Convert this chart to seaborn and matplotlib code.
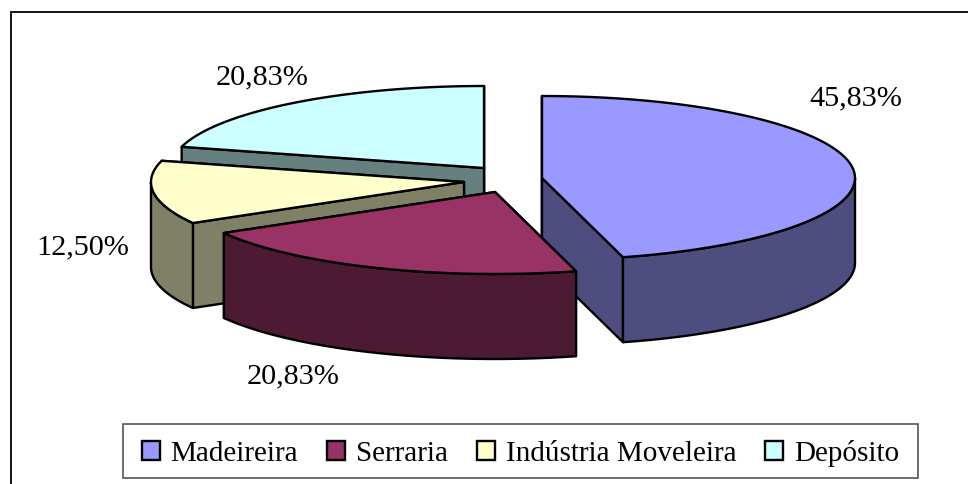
import numpy as np
import matplotlib
matplotlib.use("Agg")
import matplotlib.pyplot as plt
from matplotlib.patches import Patch, Polygon, Rectangle
import seaborn as sns

categories = ["Madeireira", "Serraria", "Indústria Moveleira", "Depósito"]
shares = [45.83, 20.83, 12.50, 20.83]

hex_colors = ["#9999FF", "#993366", "#FFFFCC", "#CCFFFF"]

# layout of the exploded pie, in pixels
rx, ry, depth = 313, 82, 85
cx, cy = 504, 181
shifts = [(38, -2), (-9, 12), (-40, 2), (-20, -12)]
draw_order = [3, 0, 2, 1]
label_pos = [(856, 98), (293, 376), (83, 247), (262, 77)]

sns.set_theme(style="white")
plt.rcParams["font.family"] = ["Liberation Serif", "DejaVu Serif"]
palette = sns.color_palette(hex_colors)


def ring(ax_, ay_, a, b, n=80):
    t = np.radians(np.linspace(a, b, n))
    return np.column_stack([ax_ + rx * np.sin(t), ay_ - ry * np.cos(t)])


def draw_slice(ax, ax_, ay_, a, b, color):
    dark = tuple(c * 0.5 for c in color)
    style = dict(edgecolor="black", linewidth=1.7, joinstyle="round")

    # cut faces, back one first
    edges = sorted([a, b], key=lambda d: -np.cos(np.radians(d)))
    for d in edges:
        p = ring(ax_, ay_, d, d, 1)[0]
        ax.add_patch(Polygon(
            [(ax_, ay_), p, p + (0, depth), (ax_, ay_ + depth)],
            facecolor=dark, **style))

    # outer wall, only the part facing the viewer
    lo, hi = max(a, 90), min(b, 270)
    if hi > lo:
        arc = ring(ax_, ay_, lo, hi)
        wall = np.vstack([arc, arc[::-1] + (0, depth)])
        ax.add_patch(Polygon(wall, facecolor=dark, **style))

    top = np.vstack([[(ax_, ay_)], ring(ax_, ay_, a, b)])
    ax.add_patch(Polygon(top, facecolor=color, **style))


fig = plt.figure(figsize=(9.68, 4.85), dpi=100)
ax = fig.add_axes([0, 0, 1, 1])
ax.set_xlim(0, 968)
ax.set_ylim(485, 0)
ax.axis("off")

# chart border, runs off the right and bottom of the picture
ax.plot([10.5, 10.5], [485, 12.5], color="black", lw=1.3)
ax.plot([10.5, 968], [12.5, 12.5], color="black", lw=1.3)

edges = np.cumsum([0] + shares) / np.sum(shares) * 360
for i in draw_order:
    draw_slice(ax, cx + shifts[i][0], cy + shifts[i][1],
               edges[i], edges[i + 1], palette[i])

for val, (x, y) in zip(shares, label_pos):
    txt = f"{val:.2f}".replace(".", ",") + "%"
    ax.text(x, y, txt, ha="center", va="center", fontsize=21.8, color="black")

# legend box drawn apart, the padding differs between width and height
ax.add_patch(Rectangle((123, 425), 795, 54, facecolor="white",
                       edgecolor="#555555", linewidth=1.2))

handles = [Patch(facecolor=c, edgecolor="black", linewidth=1.7, label=n)
           for c, n in zip(palette, categories)]
leg = ax.legend(
    handles=handles, ncols=4, loc="center",
    bbox_to_anchor=(520.5, 454), bbox_transform=ax.transData,
    fontsize=21, frameon=False, labelcolor="black", borderaxespad=0,
    handlelength=0.62, handleheight=0.62, handletextpad=0.36,
    columnspacing=1.0,
)

plt.savefig("out.png", dpi=100)
plt.close()
